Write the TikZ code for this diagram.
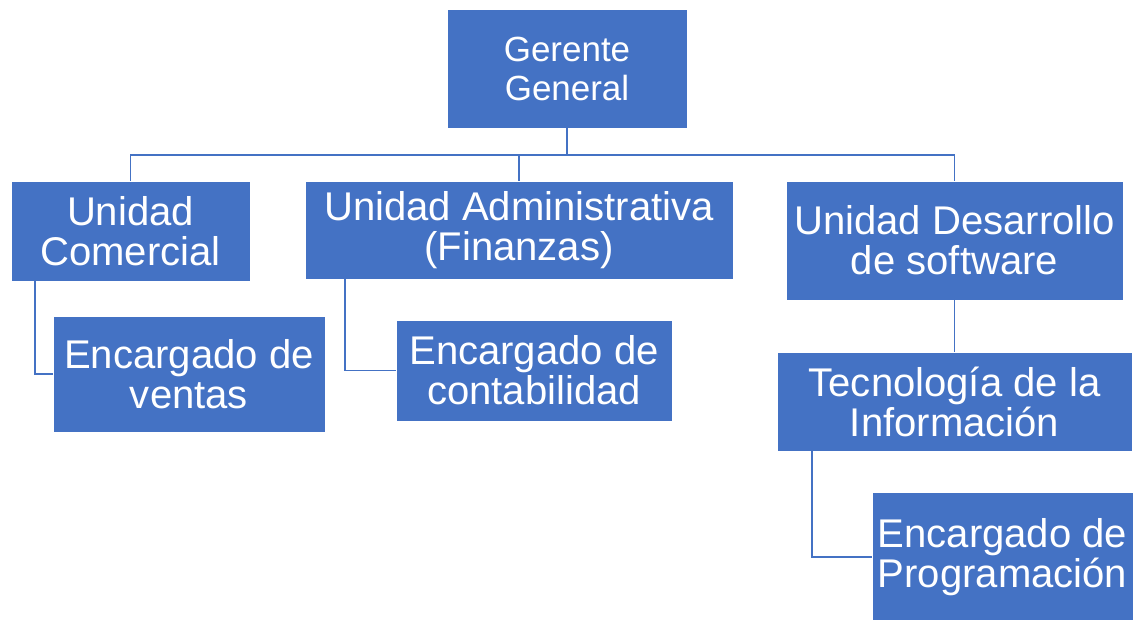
\documentclass[tikz,border=0pt]{standalone}
\usepackage{fontspec}
\setmainfont{Liberation Sans}
\usepackage{xcolor}
\usetikzlibrary{positioning}
\definecolor{azul}{RGB}{68, 114, 196}
\newlength{\pix}
\setlength{\pix}{0.02cm}

\begin{document}
\begin{tikzpicture}[x=0.02cm, y=-0.02cm,
    caja/.style={rectangle, fill=azul, draw=white, line width=0.4pt, text=white, align=center, inner sep=0pt,
        font=\fontsize{22.8pt}{22.8pt}\selectfont},
    linea/.style={draw=azul, line width=1pt}]
    \useasboundingbox (0,0) rectangle (1135,619);
    \node [caja, minimum width=240\pix, minimum height=119\pix, font=\fontsize{19.9pt}{22.2pt}\selectfont] (gg) at (567,68.5) {Gerente\\General};
    \node [caja, minimum width=239\pix, minimum height=100\pix] (uc) at (130.5,231) {Unidad\\Comercial};
    \node [caja, minimum width=428\pix, minimum height=98\pix] (ua) at (519,230) {Unidad Administrativa\\(Finanzas)};
    \node [caja, minimum width=337\pix, minimum height=119\pix] (ud) at (954.5,240.5) {Unidad Desarrollo\\de software};
    \node [caja, minimum width=272\pix, minimum height=116\pix] (ev) at (189,374) {Encargado de\\ventas};
    \node [caja, minimum width=276\pix, minimum height=101\pix] (ec) at (534,370.5) {Encargado de\\contabilidad};
    \node [caja, minimum width=355\pix, minimum height=99\pix] (ti) at (954.5,401.5) {Tecnología de la\\Información};
    \node [caja, minimum width=261\pix, minimum height=130\pix] (ep) at (1002.5,557) {Encargado de\\Programación};
    \coordinate (bus) at (567,155);
    \draw [linea] (gg.south) -- (bus);
    \draw [linea] (uc.north) |- (bus) -| (ud.north);
    \draw [linea] (ua.north) -- (ua.north |- bus);
    \draw [linea] ([xshift=24\pix]uc.south west) |- (ev.west);
    \draw [linea] ([xshift=40\pix]ua.south west) |- (ec.west);
    \draw [linea] (ud.south) -- (ti.north);
    \draw [linea] ([xshift=35\pix]ti.south west) |- (ep.west);
\end{tikzpicture}
\end{document}
